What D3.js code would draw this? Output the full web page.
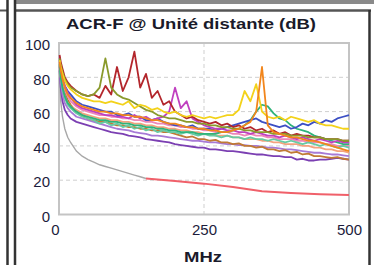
<!DOCTYPE html>
<html>
<head>
<meta charset="utf-8">
<script src="https://cdn.jsdelivr.net/npm/d3@7"></script>
<style>
body { margin: 0; background: #fff; }
svg { display: block; font-family: "Liberation Sans", Arial, sans-serif; }
</style>
</head>
<body>
<svg class="chart" width="374" height="265"></svg>
<script>
const title = 'ACR-F @ Unité distante (dB)';
const xLabel = 'MHz';
const xTicks = [0, 250, 500];
const yTicks = [0, 20, 40, 60, 80, 100];

const freq = [1, 3, 6, 10, 15, 20, 30, 40, 50, 60, 70, 80, 90, 100, 110, 120, 130, 140, 150, 160,
    170, 180, 190, 200, 210, 220, 230, 240, 250, 260, 270, 280, 290, 300, 310, 320, 330, 340, 350, 360,
    370, 380, 390, 400, 410, 420, 430, 440, 450, 460, 470, 480, 490, 500];

// limit line: gray part then red part
const limitGrayFreq = [1, 3, 6, 10, 15, 20, 30, 40, 50, 60, 70, 80, 90, 100, 110, 120, 130, 140, 150];
const limitGray = [80, 66, 57, 50, 45, 42, 37, 34, 32, 30.5, 29, 28, 27, 26, 25, 24, 23, 22, 21];
const limitRedFreq = [150, 200, 250, 300, 350, 400, 450, 500];
const limitRed = [21, 19.5, 18, 16, 13.5, 12.5, 11.8, 11.3];

const purple = [84, 74, 66, 61, 58, 56, 54, 53, 52, 51, 50, 49, 48, 47.5, 47, 46, 45.5, 45, 44, 43.5,
    43, 42.5, 42, 41, 40.5, 40, 39.5, 39, 39, 38, 38, 37.5, 37, 37, 36.5, 36, 35.5, 35, 35, 34.5,
    34, 34, 33.5, 33.5, 32, 32.5, 31.5, 31.5, 32, 32, 32.5, 33, 32.5, 32];
const violet = [86, 77, 70, 65, 62, 60, 57, 56, 55, 54, 53, 52, 51, 50, 49.5, 49, 48, 47.5, 47, 46,
    46, 45.5, 45, 44.5, 44, 43.5, 43, 43, 42.5, 42, 42, 41.5, 41, 41, 40.5, 40.5, 40, 40, 39.5, 39,
    39, 38.5, 38, 38, 37.5, 37, 36.5, 36, 36, 35.5, 35, 35, 34.5, 34];
const brown = [88, 82, 76, 71, 67, 64, 60, 58, 56, 55, 54, 54, 53, 52, 52, 51, 51, 50, 50, 49,
    49, 48, 48, 47, 46, 45, 45.5, 44, 44, 43, 43.5, 42, 42, 41, 41.5, 40, 40, 39, 39.5, 38,
    38, 37, 37.5, 36, 36.5, 35, 35.5, 34, 34, 33.5, 33, 33.5, 32.5, 32];
const salmon = [87, 80, 74, 69, 65, 63, 61, 59, 58, 57, 56, 56, 55, 55, 54, 54, 53, 53, 52, 52,
    51, 51, 50, 50, 49, 49, 48, 48, 47, 47, 46, 46, 46, 45, 45, 44, 44, 44, 43, 43,
    42, 42, 41, 41, 41, 40, 40, 39, 39, 38, 38, 37, 37, 36];
const pink = [90, 84, 78, 73, 69, 66, 63, 61, 60, 59, 58, 58, 57, 57, 56, 56, 55, 55, 54, 54,
    53, 53, 52, 52, 51, 51, 50, 50, 49, 49, 48, 48, 48, 47, 47, 46, 47, 46, 46, 45,
    45, 44, 44, 44, 43, 43, 42, 42, 42, 41, 41, 40, 40, 40];
const mint = [88, 80, 73, 68, 64, 62, 59, 57, 56, 55, 53, 54, 52, 53, 51, 52, 50, 51, 49, 50,
    48, 49, 48, 48, 47, 48, 47, 46, 47, 46, 46, 45, 46, 45, 45, 44, 45, 44, 44, 43,
    44, 43, 42, 43, 42, 41, 42, 41, 40, 41, 40, 39, 40, 39];
const green = [87, 80, 74, 69, 65, 63, 60, 58, 57, 56, 55, 55, 54, 54, 53, 53, 52, 52, 51, 51,
    50, 50, 49, 49, 48, 48, 48, 47, 47, 47, 47, 48, 48, 49, 50, 52, 55, 60, 64, 63,
    59, 56, 55, 52, 50, 49, 48, 46, 45, 44, 43, 42, 41, 41];
const blue = [90, 85, 80, 75, 72, 70, 66, 64, 63, 62, 61, 60, 60, 58, 58, 59, 57, 57, 55, 55,
    56, 54, 53, 52, 52, 51, 52, 50, 50, 50, 49, 50, 51, 52, 53, 54, 55, 56, 54, 53,
    52, 51, 52, 50, 51, 53, 52, 54, 53, 55, 54, 56, 57, 58];
const magenta = [92, 86, 80, 75, 71, 68, 64, 62, 61, 60, 59, 58, 58, 57, 57, 56, 58, 56, 57, 55,
    56, 57, 60, 74, 62, 66, 56, 54, 52, 51, 50, 50, 49, 49, 48, 48, 47, 48, 47, 46,
    46, 45, 46, 45, 44, 45, 44, 43, 44, 43, 42, 43, 42, 42];
const red = [93, 89, 85, 80, 77, 75, 72, 70, 69, 70, 68, 75, 70, 86, 72, 80, 95, 74, 82, 68,
    72, 64, 66, 60, 58, 56, 57, 55, 54, 53, 54, 52, 53, 51, 52, 50, 51, 49, 50, 48,
    49, 47, 48, 46, 47, 46, 46, 45, 45, 44, 44, 44, 43, 43];
const olive = [91, 87, 83, 79, 76, 74, 72, 70, 69, 70, 74, 91, 74, 70, 68, 67, 65, 63, 61, 60,
    58, 57, 56, 56, 55, 54, 54, 53, 53, 52, 52, 51, 51, 50, 50, 49, 49, 48, 48, 48,
    47, 47, 47, 46, 46, 46, 45, 45, 45, 44, 44, 44, 43, 43];
const yellow = [90, 86, 82, 78, 75, 73, 70, 68, 67, 66, 66, 65, 66, 65, 64, 66, 62, 64, 63, 61,
    62, 60, 59, 60, 58, 57, 58, 57, 56, 57, 56, 57, 58, 58, 61, 72, 66, 76, 60, 57,
    56, 57, 55, 57, 56, 55, 54, 55, 53, 52, 52, 51, 50, 50];
const orange = [89, 84, 79, 74, 70, 68, 65, 63, 62, 61, 60, 60, 59, 59, 58, 58, 57, 57, 56, 55,
    55, 54, 53, 53, 52, 51, 51, 50, 50, 49, 49, 48, 48, 49, 50, 52, 54, 60, 86, 52,
    48, 47, 46, 45, 45, 44, 43, 43, 42, 41, 40, 39, 38, 37];

const series = [
    {name: 'purple', color: '#7b3fb2', values: purple},
    {name: 'violet', color: '#a77ad6', values: violet},
    {name: 'brown', color: '#c07a35', values: brown},
    {name: 'salmon', color: '#f3a27e', values: salmon},
    {name: 'pink', color: '#ee86b8', values: pink},
    {name: 'mint', color: '#67caa3', values: mint},
    {name: 'green', color: '#2fb37a', values: green},
    {name: 'blue', color: '#3c4fc4', values: blue},
    {name: 'magenta', color: '#c040c0', values: magenta},
    {name: 'red', color: '#b3262c', values: red},
    {name: 'olive', color: '#8a9a2c', values: olive},
    {name: 'yellow', color: '#f3d21a', values: yellow},
    {name: 'orange', color: '#f2861c', values: orange},
];

const svg = d3.select('.chart');

// outer frame
svg.append('rect').attr('x', 15).attr('y', 0).attr('width', 359).attr('height', 4).attr('fill', '#8a8a8a');
svg.append('line').attr('x1', 0).attr('x2', 7).attr('y1', 10.5).attr('y2', 10.5)
    .attr('stroke', '#555').attr('stroke-width', 2);
svg.append('line').attr('x1', 15).attr('x2', 371).attr('y1', 10.5).attr('y2', 10.5)
    .attr('stroke', '#555').attr('stroke-width', 2.5);
[7.5, 15, 369.5].forEach(x => {
    svg.append('line').attr('x1', x).attr('x2', x).attr('y1', x > 300 ? 10 : 0).attr('y2', 265)
        .attr('stroke', '#333').attr('stroke-width', 2.5);
});

const margins = {left: 59, right: 349, top: 43, bottom: 214.5};

const xScale = d3.scaleLinear().domain([0, 500]).range([margins.left, margins.right]);
const yScale = d3.scaleLinear().domain([0, 100]).range([margins.bottom, margins.top]);

// grid
svg.append('g')
    .selectAll('line')
    .data(yTicks.filter(t => t > 0 && t < 100))
    .enter()
    .append('line')
    .attr('x1', margins.left).attr('x2', margins.right)
    .attr('y1', d => yScale(d)).attr('y2', d => yScale(d))
    .attr('stroke', '#cfcfcf').attr('stroke-dasharray', '4,3');
svg.append('line')
    .attr('x1', xScale(250)).attr('x2', xScale(250))
    .attr('y1', margins.top).attr('y2', margins.bottom)
    .attr('stroke', '#cfcfcf').attr('stroke-dasharray', '4,3');

// plot border
svg.append('rect')
    .attr('x', margins.left).attr('y', margins.top)
    .attr('width', margins.right - margins.left).attr('height', margins.bottom - margins.top)
    .attr('fill', 'none').attr('stroke', '#c4c4c4').attr('stroke-width', 2);

const line = d3.line().x(d => xScale(d[0])).y(d => yScale(d[1]));

svg.append('path')
    .datum(limitGrayFreq.map((f, i) => [f, limitGray[i]]))
    .attr('d', line).attr('fill', 'none').attr('stroke', '#a8a8a8').attr('stroke-width', 1.4);
svg.append('path')
    .datum(limitRedFreq.map((f, i) => [f, limitRed[i]]))
    .attr('d', line).attr('fill', 'none').attr('stroke', '#f0606a').attr('stroke-width', 2);

svg.selectAll('.series')
    .data(series)
    .enter()
    .append('path')
    .classed('series', true)
    .attr('d', s => line(freq.map((f, i) => [f, s.values[i]])))
    .attr('fill', 'none')
    .attr('stroke', s => s.color)
    .attr('stroke-width', 1.8)
    .attr('stroke-linejoin', 'round');

// axes
const yAxis = svg.append('g')
    .attr('transform', `translate(${margins.left - 9}, 0)`)
    .call(d3.axisLeft(yScale).tickValues(yTicks).tickSize(0).tickPadding(0));
yAxis.select('.domain').remove();
yAxis.selectAll('text').attr('font-size', 15).attr('fill', '#1c1c3c')
    .attr('font-family', '"Liberation Sans", Arial, sans-serif').attr('dy', '0.45em');

const xAxis = svg.append('g')
    .attr('transform', `translate(0, ${margins.bottom})`)
    .call(d3.axisBottom(xScale).tickValues(xTicks).tickSize(0).tickPadding(10));
xAxis.select('.domain').remove();
xAxis.selectAll('text').attr('font-size', 15).attr('fill', '#1c1c3c')
    .attr('font-family', '"Liberation Sans", Arial, sans-serif')
    .attr('dx', d => d === 0 ? -4 : 0);

svg.append('text')
    .attr('x', 191).attr('y', 29)
    .attr('text-anchor', 'middle')
    .attr('font-size', 15).attr('font-weight', 'bold').attr('fill', '#1a1a2a')
    .attr('textLength', 250).attr('lengthAdjust', 'spacingAndGlyphs')
    .text(title);

svg.append('text')
    .attr('x', 203).attr('y', 262)
    .attr('text-anchor', 'middle')
    .attr('font-size', 15).attr('font-weight', 'bold').attr('fill', '#1a1a2a')
    .attr('textLength', 38).attr('lengthAdjust', 'spacingAndGlyphs')
    .text(xLabel);
</script>
</body>
</html>
